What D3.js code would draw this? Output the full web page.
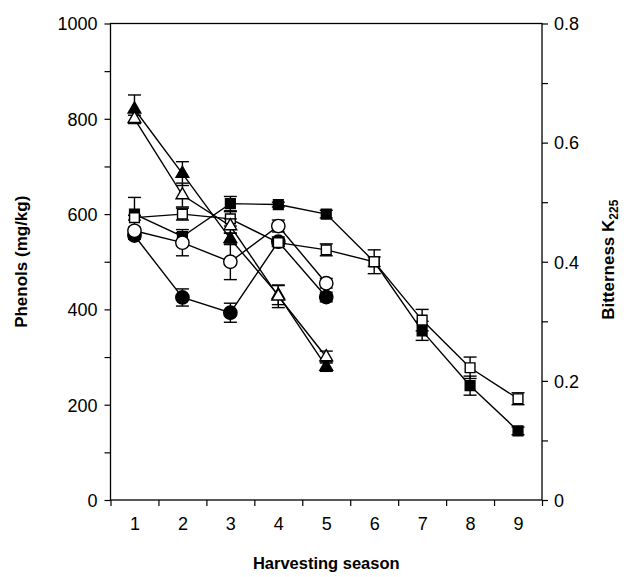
<!doctype html>
<html>
<head>
<meta charset="utf-8">
<script src="https://d3js.org/d3.v7.min.js"></script>
<style>
  body { margin: 0; background: #fff; }
  text { font-family: "Liberation Sans", Arial, sans-serif; fill: #000; }
</style>
</head>
<body>
<svg width="624" height="577"></svg>
<script>
// harvesting seasons on the x axis
var seasons = [1, 2, 3, 4, 5, 6, 7, 8, 9];
var phenolTicks = [0, 200, 400, 600, 800, 1000];
var bitterTicks = [0, 0.2, 0.4, 0.6, 0.8];

// phenols (mg/kg), filled symbols, left axis
var phenolsSquare   = [600, 553, 622, 620, 600, 500, 355, 240, 145];
var phenolsSquareSd = [35, 8, 15, 5, 8, 10, 20, 20, 8];
var phenolsCircle   = [555, 425, 393, 542, 426];
var phenolsCircleSd = [8, 18, 20, 10, 10];
var phenolsTri      = [820, 685, 548, 430, 280];
var phenolsTriSd    = [30, 25, 12, 20, 10];

// bitterness K225, open symbols, right axis
var bitterSquare   = [0.474, 0.48, 0.472, 0.432, 0.42, 0.40, 0.302, 0.222, 0.17];
var bitterSquareSd = [0.004, 0.01, 0.012, 0.006, 0.01, 0.02, 0.018, 0.018, 0.01];
var bitterCircle   = [0.452, 0.432, 0.40, 0.46, 0.364];
var bitterCircleSd = [0.006, 0.022, 0.03, 0.01, 0.008];
var bitterTri      = [0.64, 0.512, 0.46, 0.342, 0.24];
var bitterTriSd    = [0.006, 0.02, 0.012, 0.019, 0.01];

var svg = d3.select("svg");
var plotLeft = 110.5, plotRight = 542, plotTop = 23.5, plotBottom = 500;

var x = d3.scaleLinear().domain([0.5, 9.5]).range([plotLeft, plotRight]);
var yL = d3.scaleLinear().domain([0, 1000]).range([plotBottom, plotTop]);
var yR = d3.scaleLinear().domain([0, 0.8]).range([plotBottom, plotTop]);

// frame
svg.append("rect")
    .attr("x", plotLeft).attr("y", plotTop)
    .attr("width", plotRight - plotLeft).attr("height", plotBottom - plotTop)
    .attr("fill", "none").attr("stroke", "#000").attr("stroke-width", 1.3);

// left axis
var gl = svg.append("g").attr("transform", "translate(" + plotLeft + ",0)")
    .call(d3.axisLeft(yL).tickValues(d3.range(0, 1001, 100)).tickSize(6)
        .tickFormat(function (d) { return phenolTicks.indexOf(d) >= 0 ? d : ""; }));
// right axis
var gr = svg.append("g").attr("transform", "translate(" + plotRight + ",0)")
    .call(d3.axisRight(yR).tickValues(d3.range(0, 9).map(function (i) { return i / 10; })).tickSize(6)
        .tickFormat(function (d) {
            var k = bitterTicks.filter(function (t) { return Math.abs(t - d) < 1e-9; });
            return k.length ? (d === 0 ? "0" : d.toFixed(1)) : "";
        }));
// bottom axis: ticks at band edges, labels at season centres
var gb = svg.append("g").attr("transform", "translate(0," + plotBottom + ")")
    .call(d3.axisBottom(x).tickValues(d3.range(0, 10).map(function (i) { return i + 0.5; }))
        .tickSize(6).tickFormat(""));
var gb2 = svg.append("g").attr("transform", "translate(0," + plotBottom + ")")
    .call(d3.axisBottom(x).tickValues(seasons).tickSize(0).tickPadding(17));

[gl, gr, gb, gb2].forEach(function (g) {
    g.select(".domain").remove();
    g.selectAll("line").attr("stroke", "#000").attr("stroke-width", 1.2);
    g.selectAll("text").style("font-size", "18px")
        .style("font-family", "'Liberation Sans', Arial, sans-serif").attr("fill", "#000");
});
gl.selectAll("text").attr("x", -13).attr("dy", "0.35em");
gr.selectAll("text").attr("x", 12).attr("dy", "0.35em");

// axis titles
svg.append("text")
    .attr("transform", "translate(27," + ((plotTop + plotBottom) / 2) + ") rotate(-90)")
    .attr("text-anchor", "middle")
    .style("font-size", "17px").style("font-weight", "bold")
    .text("Phenols (mg/kg)");

var rt = svg.append("text")
    .attr("transform", "translate(614," + ((plotTop + plotBottom) / 2 - 2) + ") rotate(-90)")
    .attr("text-anchor", "middle")
    .style("font-size", "17px").style("font-weight", "bold");
rt.append("tspan").text("Bitterness K");
rt.append("tspan").attr("dy", 4).style("font-size", "12px").text("225");

svg.append("text")
    .attr("x", (plotLeft + plotRight) / 2).attr("y", 569)
    .attr("text-anchor", "middle")
    .style("font-size", "16.5px").style("font-weight", "bold")
    .text("Harvesting season");

var series = [
    { v: phenolsSquare, sd: phenolsSquareSd, y: yL, sym: d3.symbolSquare, size: 95, fill: "#000" },
    { v: phenolsCircle, sd: phenolsCircleSd, y: yL, sym: d3.symbolCircle, size: 140, fill: "#000" },
    { v: phenolsTri, sd: phenolsTriSd, y: yL, sym: d3.symbolTriangle, size: 70, fill: "#000" },
    { v: bitterSquare, sd: bitterSquareSd, y: yR, sym: d3.symbolSquare, size: 95, fill: "#fff" },
    { v: bitterCircle, sd: bitterCircleSd, y: yR, sym: d3.symbolCircle, size: 140, fill: "#fff" },
    { v: bitterTri, sd: bitterTriSd, y: yR, sym: d3.symbolTriangle, size: 70, fill: "#fff" }
];

var line = function (ys) {
    return d3.line().x(function (d, i) { return x(seasons[i]); }).y(function (d) { return ys(d); });
};

// lines
series.forEach(function (s) {
    svg.append("path").datum(s.v)
        .attr("d", line(s.y))
        .attr("fill", "none").attr("stroke", "#000").attr("stroke-width", 1.4);
});

// error bars + markers
series.forEach(function (s) {
    var g = svg.append("g");
    s.v.forEach(function (d, i) {
        var cx = x(seasons[i]);
        var y1 = s.y(d + s.sd[i]), y2 = s.y(d - s.sd[i]);
        g.append("line").attr("x1", cx).attr("x2", cx).attr("y1", y1).attr("y2", y2)
            .attr("stroke", "#000").attr("stroke-width", 1.4);
        [y1, y2].forEach(function (yy) {
            g.append("line").attr("x1", cx - 6.5).attr("x2", cx + 6.5).attr("y1", yy).attr("y2", yy)
                .attr("stroke", "#000").attr("stroke-width", 1.4);
        });
    });
    g.selectAll("path.m").data(s.v).enter().append("path")
        .attr("class", "m")
        .attr("d", d3.symbol().type(s.sym).size(s.size))
        .attr("transform", function (d, i) { return "translate(" + x(seasons[i]) + "," + s.y(d) + ")"; })
        .attr("fill", s.fill).attr("stroke", "#000").attr("stroke-width", 1.4);
});
</script>
</body>
</html>
